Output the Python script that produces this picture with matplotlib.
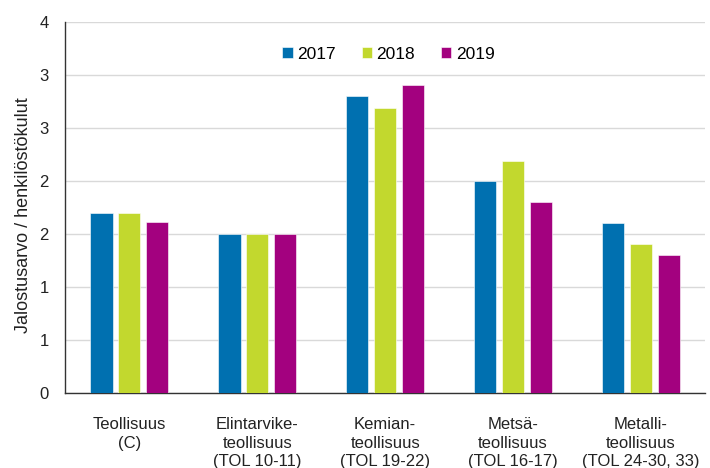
import numpy as np
import matplotlib
matplotlib.use('Agg')
import matplotlib.pyplot as plt
from matplotlib.ticker import MultipleLocator, FuncFormatter

plt.rcParams['font.family'] = ['Liberation Sans', 'DejaVu Sans']

categories = ['Teollisuus\n(C)', 'Elintarvike-\nteollisuus\n(TOL 10-11)',
              'Kemian-\nteollisuus\n(TOL 19-22)', 'Metsä-\nteollisuus\n(TOL 16-17)',
              'Metalli-\nteollisuus\n(TOL 24-30, 33)']
years = ['2017', '2018', '2019']
v2017 = [1.70, 1.50, 2.80, 2.00, 1.60]
v2018 = [1.70, 1.50, 2.69, 2.19, 1.41]
v2019 = [1.61, 1.50, 2.91, 1.80, 1.30]
colors = ['#0070b0', '#c2d82e', '#a3017f']

fig = plt.figure(figsize=(7.1, 4.68), dpi=100)
ax = fig.add_axes([0.092, 0.16, 0.901, 0.793])

x = np.arange(len(categories))
width = 0.175
step = 0.218
for i, (vals, yr) in enumerate(zip([v2017, v2018, v2019], years)):
    ax.bar(x + (i - 1) * step, vals, width, color=colors[i], label=yr,
           edgecolor='white', linewidth=0.4, zorder=3)

ax.set_xlim(-0.5, len(categories) - 0.5)
ax.set_ylim(0, 3.5)
ax.yaxis.set_major_locator(MultipleLocator(0.5))
ax.yaxis.set_major_formatter(FuncFormatter(lambda v, p: str(int(np.floor(v + 0.5)))))
ax.grid(axis='y', color='#d9d9d9', linewidth=1, zorder=0)
ax.set_axisbelow(True)

ax.set_xticks(x)
ax.set_xticklabels(categories, fontsize=12, linespacing=1.32)
ax.tick_params(axis='both', length=0, labelsize=12, colors='#222222')
ax.tick_params(axis='x', pad=17)
ax.tick_params(axis='y', pad=12)

for s in ['top', 'right']:
    ax.spines[s].set_visible(False)
for s in ['left', 'bottom']:
    ax.spines[s].set_color('#333333')
    ax.spines[s].set_linewidth(1)

ax.set_ylabel('Jalostusarvo / henkilöstökulut', fontsize=13, color='#222222')
ax.yaxis.set_label_coords(-0.052, 0.48)

ax.legend(loc='upper center', bbox_to_anchor=(0.505, 0.975), ncol=3, frameon=False,
          fontsize=12.5, handlelength=0.6, handleheight=0.6, handletextpad=0.25,
          columnspacing=1.5)

fig.savefig('out.png', dpi=100)
